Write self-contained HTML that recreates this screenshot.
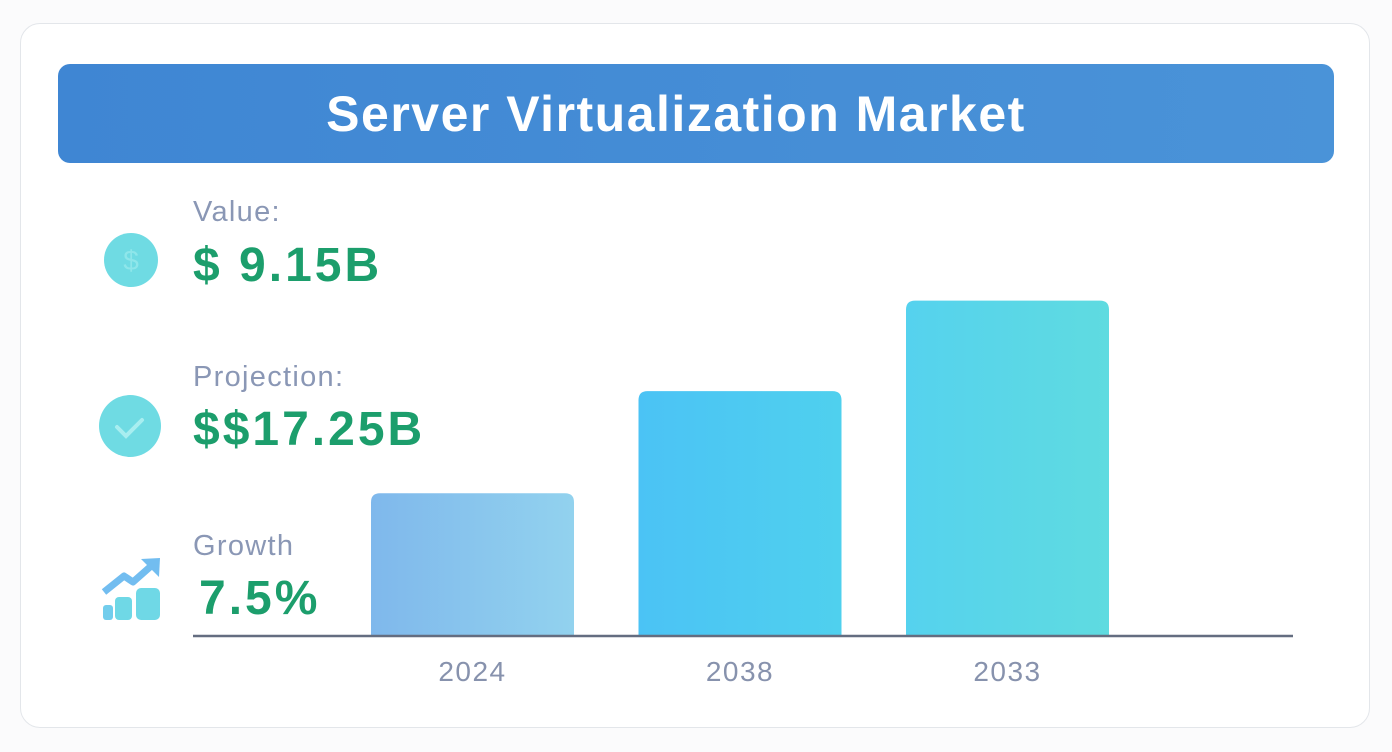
<!DOCTYPE html>
<html><head><meta charset="utf-8">
<style>
html,body{margin:0;padding:0;background:#fbfbfc;}
body{width:1392px;height:752px;position:relative;overflow:hidden;font-family:"Liberation Sans",sans-serif;}
#card{position:absolute;left:20px;top:23px;width:1350px;height:705px;background:#fff;border:1.5px solid #e3e6ea;border-radius:20px;box-sizing:border-box;}
#header{position:absolute;left:58px;top:64px;width:1276px;height:99px;border-radius:12px;background:linear-gradient(90deg,#3f86d3,#4a93d8);display:flex;align-items:center;justify-content:center;color:#fff;font-weight:bold;font-size:50px;letter-spacing:1.5px;padding-right:40px;box-sizing:border-box;}
.lbl{position:absolute;left:193px;color:#8a97b5;font-size:29px;letter-spacing:1.3px;}
.val{position:absolute;left:193px;color:#1c9e6c;font-weight:bold;font-size:48px;letter-spacing:3px;}
svg{position:absolute;left:0;top:0;}
</style></head><body>
<div id="card"></div>
<div id="header">Server Virtualization Market</div>
<div class="lbl" style="top:196px">Value:</div>
<div class="val" style="top:238px">$ 9.15B</div>
<div class="lbl" style="top:361px">Projection:</div>
<div class="val" style="top:402px">$$17.25B</div>
<div class="lbl" style="top:530px">Growth</div>
<div class="val" style="top:571px;left:199px">7.5%</div>
<svg width="1392" height="752" id="chart">
<defs>
<linearGradient id="g0" x1="0" x2="1"><stop offset="0" stop-color="#7fb8ec"/><stop offset="1" stop-color="#92d2ee"/></linearGradient>
<linearGradient id="g1" x1="0" x2="1"><stop offset="0" stop-color="#4bc3f5"/><stop offset="1" stop-color="#4fd0ee"/></linearGradient>
<linearGradient id="g2" x1="0" x2="1"><stop offset="0" stop-color="#55d2ee"/><stop offset="1" stop-color="#5fdbe0"/></linearGradient>
</defs>
<g>
<circle cx="131" cy="260" r="27" fill="#6fdbe3"/>
<text x="131" y="270" text-anchor="middle" font-size="28" fill="#8ee6ea" font-family="Liberation Sans">$</text>
</g>
<g>
<circle cx="130" cy="426" r="31" fill="#6fdbe3"/>
<path d="M117 427 l9 9 l16 -16" stroke="#a8eef0" stroke-width="4" fill="none" stroke-linecap="round"/>
</g>
<g>
<rect x="103" y="605" width="10" height="15" rx="3" fill="#72cdec"/>
<rect x="115" y="597" width="17" height="23" rx="4" fill="#6fd8e6"/>
<rect x="136" y="588" width="24" height="32" rx="5" fill="#6fd8e6"/>
<path d="M104 592 L124 576 L133 582 L150 567" stroke="#72bdf0" stroke-width="7" fill="none" stroke-linejoin="round"/>
<path d="M141 559 L160 558 L159 577 Z" fill="#72bdf0"/>
</g>
<g id="bars"></g>
<line x1="193" y1="636" x2="1293" y2="636" stroke="#646d80" stroke-width="2.5"/>
<g id="xlabels"></g>
</svg>
<script>
const categories = ["2024", "2038", "2033"];
const values = [9.15, 15.7, 21.5];
const ns = "http://www.w3.org/2000/svg";
const baseY = 636, pxPerUnit = 15.6;
const xStart = 371, step = 267.5, barW = 203;
function xScale(i){ return xStart + i*step; }
function yScale(v){ return baseY - v*pxPerUnit; }
const bars = document.getElementById('bars'), xl = document.getElementById('xlabels');
values.forEach((v,i)=>{
  const x = xScale(i), y = yScale(v);
  const p = document.createElementNS(ns,'path');
  const r = 9;
  p.setAttribute('d', `M${x} ${baseY} V${y+r} Q${x} ${y} ${x+r} ${y} H${x+barW-r} Q${x+barW} ${y} ${x+barW} ${y+r} V${baseY} Z`);
  p.setAttribute('fill', `url(#g${i})`);
  
  
  bars.appendChild(p);
  const t = document.createElementNS(ns,'text');
  t.setAttribute('x', x + barW/2);
  t.setAttribute('y', 681);
  t.setAttribute('text-anchor', 'middle');
  t.setAttribute('font-size', '28');
  t.setAttribute('letter-spacing', '1.5');
  t.setAttribute('fill', '#8792ad');
  t.setAttribute('font-family', 'Liberation Sans, sans-serif');
  t.textContent = categories[i];
  
  
  xl.appendChild(t);
});
</script>
</body></html>
